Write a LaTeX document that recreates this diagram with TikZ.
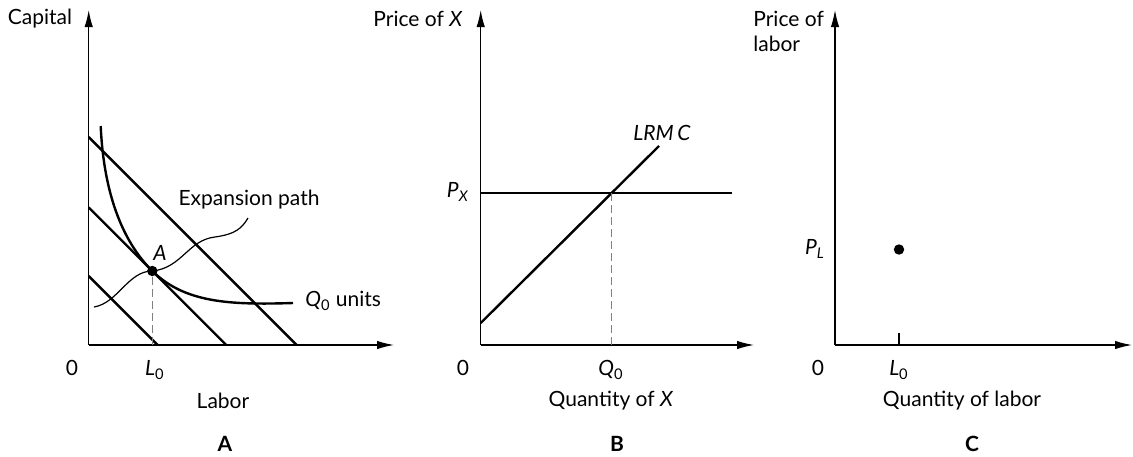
\documentclass[tikz,border=0pt]{standalone}
\usepackage{fontspec}
\setmainfont{Lato}
\usetikzlibrary{arrows.meta}

\newcommand\isub[2]{\textit{#1}\textsubscript{#2}}

\begin{document}
\begin{tikzpicture}[x=0.5pt,y=-0.5pt,>={Latex[length=8.5pt,width=4.2pt]},
  axis/.style={line width=0.6pt,->},
  curve/.style={line width=1.2pt},
  guide/.style={gray,line width=0.5pt,dash pattern=on 4pt off 2pt},
  lbl/.style={font=\fontsize{10.5}{12.5}\selectfont,inner sep=0pt},
  panel/.style={font=\fontsize{10.5}{12.5}\selectfont\bfseries,inner sep=0pt},
  dot/.style={circle,fill=black,inner sep=0pt,minimum size=5.2pt}]
\useasboundingbox (0,0) rectangle (1133,456);
% panel A: isoquant and isocost lines
\coordinate (oA) at (88.7,345);
\draw[axis] (oA) -- (88.7,10);
\draw[axis] (oA) -- (394,345);
\draw[curve] (88.7,276) -- (157.7,345);
\draw[curve] (88.7,207.4) -- (226.3,345);
\draw[curve] (88.7,137) -- (296.7,345);
\node[dot] (A) at (152.3,271) {};
\draw[curve] (100.7,126) .. controls (104,200) and (126,245) .. (A.center)
  .. controls (185,303) and (230,305) .. (293,303);
\draw[guide] (A) -- (152.3,345);
\draw[line width=0.6pt] (94,307) .. controls (118,303) and (128,271) .. (A.center)
  .. controls (182,268) and (188,240) .. (215,237)
  .. controls (236,234) and (242,228) .. (248,218);
\node[lbl] (capital) at (40,19) {Capital};
\node[lbl] (zeroA) at (72,368) {0};
\node[lbl] (L0A) at (155,370) {\isub{L}{0}};
\node[lbl] (labor) at (223,401) {Labor};
\node[lbl] (labA) at (160,253) {\textit{A}};
\node[lbl] (exp) at (249,200) {Expansion path};
\node[lbl,anchor=west] (Q0u) at (305,301) {\isub{Q}{0} units};
\node[panel] (capA) at (225,444) {A};
% panel B: market for X
\coordinate (oB) at (480.7,345);
\draw[axis] (oB) -- (480.7,10);
\draw[axis] (oB) -- (754,345);
\draw[curve] (480.7,193) -- (731.7,193);
\draw[curve] (480.7,323) -- (659,146);
\draw[guide] (611,193) -- (611,345);
\node[lbl] (priceX) at (418,19) {Price of \textit{X}};
\node[lbl] (PX) at (458,192) {\textit{P}\textsubscript{\textit{X}}};
\node[lbl] (lrmc) at (662,133) {\textit{LRM\,C}};
\node[lbl] (zeroB) at (463,368) {0};
\node[lbl] (Q0B) at (611,370) {\isub{Q}{0}};
\node[lbl] (qtyX) at (611,401) {Quantity of \textit{X}};
\node[panel] (capB) at (617,444) {B};
% panel C: market for labor
\coordinate (oC) at (835,345);
\draw[axis] (oC) -- (835,10);
\draw[axis] (oC) -- (1132,345);
\draw[line width=0.6pt] (899,333) -- (899,345);
\node[dot] (PLdot) at (899,249.5) {};
\node[lbl,align=left,anchor=west] (priceL) at (753,31) {Price of\\labor};
\node[lbl] (PL) at (815,249) {\textit{P}\textsubscript{\textit{L}}};
\node[lbl] (zeroC) at (818,368) {0};
\node[lbl] (L0C) at (899,370) {\isub{L}{0}};
\node[lbl] (qtyL) at (962,401) {Quantity of labor};
\node[panel] (capC) at (972,444) {C};
\end{tikzpicture}
\end{document}
